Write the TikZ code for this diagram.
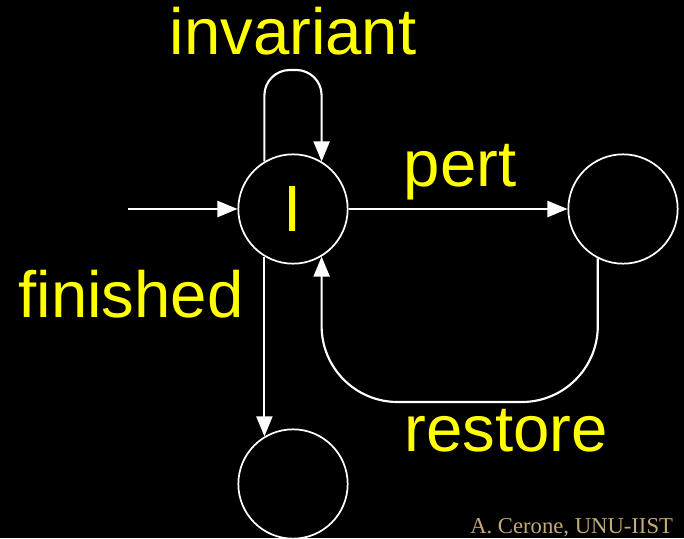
\documentclass[tikz,border=0pt]{standalone}
\usepackage{fontspec}
\setmainfont{Liberation Sans}
\newfontfamily\footfont{Liberation Serif}
\usepackage{tikz}
\usetikzlibrary{arrows.meta}

\definecolor{lblyellow}{RGB}{255,255,0}
\definecolor{foottan}{RGB}{196,170,120}

\begin{document}
\begin{tikzpicture}[x=0.75pt, y=-0.75pt,
  >={Triangle[length=15pt, width=12pt]},
  state/.style={draw=white, line width=1.3pt, circle, minimum size=82pt, inner sep=0pt,
    text=lblyellow, font=\fontsize{49}{58}\selectfont},
  lbl/.style={text=lblyellow, font=\fontsize{49}{58}\selectfont, anchor=base, inner sep=0pt},
  flow/.style={->, draw=white, line width=1.6pt}]
\fill[black] (0,0) rectangle (684,538);
\clip (0,0) rectangle (684,538);

% states
\node[state] (inv) at (293,209) {I};
\node[state] (pert) at (623,209) {};
\node[state] (fin) at (293,484) {};

% labels
\node[lbl] (invlbl) at (293,55) {invariant};
\node[lbl] (pertlbl) at (460,187) {pert};
\node[lbl] (finlbl) at (131,317) {finished};
\node[lbl] (restlbl) at (506,451) {restore};

\coordinate (start) at (128,209);
\coordinate (looptop) at (293,70);
\coordinate (backbot) at (460,402);

% transitions
\draw[flow] (start) -- (inv);
\draw[flow, rounded corners=19pt] (inv.121) |- (looptop -| inv.59) -- (inv.59);
\draw[flow] (inv) -- (pert);
\draw[flow, rounded corners=57pt] (pert.-117) |- (backbot -| inv.-59) -- (inv.-59);
\draw[flow] (inv.-121) -- (fin.121);

\node[anchor=base west, inner sep=0pt, text=foottan, font=\footfont\fontsize{17}{20}\selectfont] (credit) at (470,533) {A. Cerone, UNU-IIST};
\end{tikzpicture}
\end{document}
